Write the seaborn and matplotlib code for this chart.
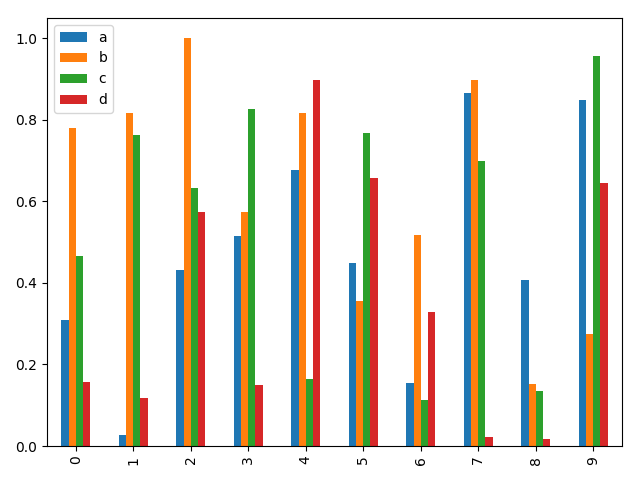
import matplotlib
matplotlib.use("Agg")
import matplotlib.pyplot as plt
import seaborn as sns
import pandas as pd

categories = [str(i) for i in range(10)]
series_names = ["a", "b", "c", "d"]
a = [0.310, 0.027, 0.432, 0.514, 0.678, 0.450, 0.155, 0.865, 0.408, 0.850]
b = [0.779, 0.816, 1.000, 0.575, 0.816, 0.356, 0.518, 0.899, 0.152, 0.275]
c = [0.467, 0.762, 0.634, 0.826, 0.165, 0.769, 0.113, 0.698, 0.135, 0.956]
d = [0.157, 0.118, 0.575, 0.150, 0.897, 0.658, 0.329, 0.022, 0.017, 0.644]

rows = []
for name, vals in zip(series_names, [a, b, c, d]):
    for cat, v in zip(categories, vals):
        rows.append({"cat": cat, "series": name, "value": v})
df = pd.DataFrame(rows)

fig, ax = plt.subplots(figsize=(6.4, 4.8), dpi=100)
sns.barplot(data=df, x="cat", y="value", hue="series", order=categories,
            hue_order=series_names, palette=sns.color_palette("tab10")[:4],
            width=0.5, saturation=1, ax=ax, errorbar=None)
ax.set_xlabel("")
ax.set_ylabel("")
ax.set_xlim(-0.5, 9.5)
ax.tick_params(axis="x", rotation=90)
ax.legend(loc="upper left", title=None)
fig.subplots_adjust(left=47/640, right=622/640, top=1-18/480, bottom=1-446/480)
fig.savefig("out.png", dpi=100)
